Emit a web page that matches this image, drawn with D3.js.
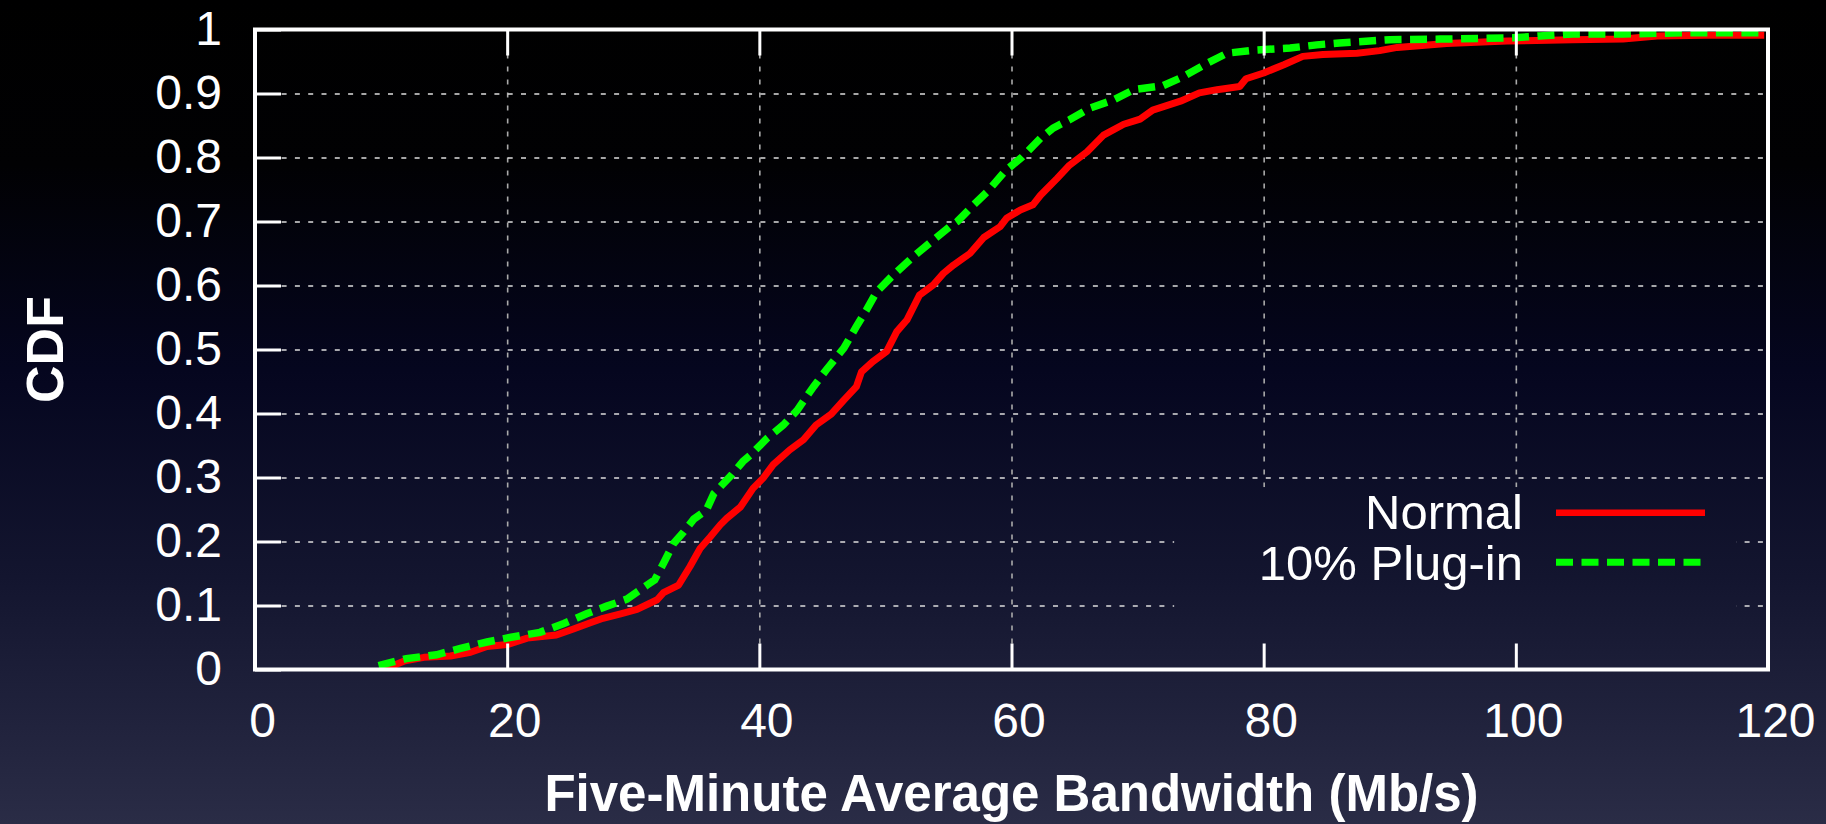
<!DOCTYPE html>
<html>
<head>
<meta charset="utf-8">
<script src="https://cdn.jsdelivr.net/npm/d3@7"></script>
<style>
  html, body { margin: 0; padding: 0; background: #000; }
  svg { display: block; }
  text { font-family: "Liberation Sans", Arial, Helvetica, sans-serif; fill: #fff; }
</style>
</head>
<body>
<svg id="chart"></svg>
<script>
// data
var xTicks = [0, 20, 40, 60, 80, 100, 120];
var yTicks = [0, 0.1, 0.2, 0.3, 0.4, 0.5, 0.6, 0.7, 0.8, 0.9, 1];
var seriesNames = ["Normal", "10% Plug-in"];

var normalX = [10.2, 11.8, 13.4, 15.5, 17.1, 18.4, 20.0, 21.6, 23.9, 25.2, 26.6, 27.6, 29.0, 30.3, 31.9, 32.4,
  33.6, 34.5, 35.3, 36.1, 36.9, 37.4, 38.5, 39.5, 40.3, 41.1, 42.4, 43.5, 44.5, 45.7, 46.7, 47.7, 48.1, 49.0,
  50.1, 50.9, 51.7, 52.7, 53.8, 54.6, 55.4, 56.7, 57.8, 59.1, 59.6, 60.7, 61.7, 62.3, 63.6, 64.6, 66.0, 67.3,
  68.9, 70.2, 71.2, 73.4, 74.9, 76.3, 78.1, 78.6, 80.0, 81.6, 83.1, 84.7, 87.4, 89.2, 90.6, 94.5, 99.3, 104.5,
  108.5, 111.2, 115.1, 119.7];
var normalY = [0, 0.013, 0.019, 0.021, 0.027, 0.036, 0.039, 0.049, 0.054, 0.063, 0.073, 0.080, 0.087, 0.094, 0.109, 0.120,
  0.132, 0.161, 0.189, 0.207, 0.226, 0.236, 0.254, 0.283, 0.299, 0.320, 0.343, 0.359, 0.382, 0.399, 0.421, 0.442, 0.465, 0.481,
  0.497, 0.528, 0.546, 0.585, 0.601, 0.619, 0.632, 0.650, 0.675, 0.692, 0.705, 0.718, 0.726, 0.741, 0.767, 0.788, 0.809, 0.835,
  0.852, 0.860, 0.874, 0.888, 0.901, 0.906, 0.911, 0.923, 0.932, 0.945, 0.958, 0.961, 0.963, 0.967, 0.972, 0.978, 0.982, 0.984,
  0.985, 0.990, 0.991, 0.991];

var plugX = [9.8, 12.0, 14.4, 16.3, 18.4, 20.2, 22.6, 24.5, 26.3, 27.9, 29.5, 31.1, 31.7, 32.4, 33.2, 34.0,
  34.8, 35.8, 36.4, 37.8, 38.7, 39.3, 40.1, 40.6, 41.9, 43.0, 44.3, 45.3, 46.7, 47.7, 48.5, 49.3, 50.6, 52.2,
  53.8, 55.1, 55.7, 57.0, 58.1, 59.5, 60.8, 62.3, 63.3, 64.6, 66.2, 68.1, 69.7, 72.0, 73.6, 75.5, 77.1, 79.4,
  82.1, 84.2, 86.0, 90.0, 94.0, 99.8, 101.9, 104.5, 108.5, 113.8, 119.9];
var plugY = [0.006, 0.017, 0.023, 0.033, 0.043, 0.050, 0.058, 0.072, 0.087, 0.099, 0.110, 0.132, 0.140, 0.166, 0.197, 0.215,
  0.235, 0.249, 0.275, 0.304, 0.325, 0.335, 0.351, 0.361, 0.382, 0.405, 0.442, 0.468, 0.502, 0.536, 0.562, 0.590, 0.616, 0.645,
  0.671, 0.692, 0.700, 0.726, 0.747, 0.779, 0.800, 0.830, 0.846, 0.859, 0.877, 0.890, 0.906, 0.912, 0.926, 0.947, 0.963, 0.968,
  0.971, 0.976, 0.979, 0.984, 0.985, 0.987, 0.990, 0.993, 0.993, 0.995, 0.995];

// margins
var W = 1826, H = 824;
var margin = { top: 29.5, right: 58, bottom: 154.5, left: 255 },
    width = W - margin.left - margin.right,
    height = H - margin.top - margin.bottom;

var root = d3.select('#chart').attr('width', W).attr('height', H);

// background gradient, black at top going to dark navy
var defs = root.append('defs');
var grad = defs.append('linearGradient').attr('id', 'bg')
    .attr('gradientUnits', 'userSpaceOnUse')
    .attr('x1', 0).attr('y1', 0).attr('x2', 0).attr('y2', H);
[[0, '#000000'], [0.2, '#010103'], [0.45, '#05061f'], [0.7, '#13152f'], [1, '#2a2c46']].forEach(function(s){
    grad.append('stop').attr('offset', s[0]).attr('stop-color', s[1]);
});
root.append('rect').attr('width', W).attr('height', H).attr('fill', 'url(#bg)');

defs.append('clipPath').attr('id', 'plotclip')
  .append('rect').attr('x', 0).attr('y', -4).attr('width', width).attr('height', height + 4);

var svg = root.append('g').attr('transform', 'translate(' + margin.left + ',' + margin.top + ')');

// scales
var xScale = d3.scaleLinear().domain([0, 120]).range([0, width]);
var yScale = d3.scaleLinear().domain([0, 1]).range([height, 0]);

// gridlines
var gridX = svg.append('g').attr('class', 'grid')
    .attr('transform', 'translate(0,' + height + ')')
    .call(d3.axisBottom(xScale).tickValues(xTicks.slice(1, -1)).tickSize(-height).tickFormat(''));
var gridY = svg.append('g').attr('class', 'grid')
    .call(d3.axisLeft(yScale).tickValues(yTicks.slice(1, -1)).tickSize(-width).tickFormat(''));
svg.selectAll('.grid .domain').remove();
gridX.selectAll('line').attr('stroke', '#aaa').attr('stroke-width', 1.6).attr('stroke-dasharray', '5,8');
gridY.selectAll('line').attr('stroke', '#ddd').attr('stroke-width', 1.6).attr('stroke-dasharray', '5,8.3');

// legend box hides the grid behind it (same gradient, so it blends in)
var legX = xScale(72.9), legY = yScale(0.285);
root.append('rect')
    .attr('x', legX + margin.left).attr('y', legY + margin.top)
    .attr('width', xScale(117.5) - legX).attr('height', height - legY)
    .attr('fill', 'url(#bg)');

// the curves
var line = d3.line().x(function(d){ return xScale(d[0]); }).y(function(d){ return yScale(d[1]); });
var normal = normalX.map(function(v, i){ return [v, normalY[i]]; });
var plug = plugX.map(function(v, i){ return [v, plugY[i]]; });
var curves = root.append('g').attr('transform', 'translate(' + margin.left + ',' + margin.top + ')')
    .attr('clip-path', 'url(#plotclip)');
curves.append('path').attr('d', line(normal))
    .attr('fill', 'none').attr('stroke', '#ff0000').attr('stroke-width', 7).attr('stroke-linejoin', 'round');
curves.append('path').attr('d', line(plug))
    .attr('fill', 'none').attr('stroke', '#00ff00').attr('stroke-width', 7.5).attr('stroke-dasharray', '17,8.5');

var frame = root.append('g').attr('transform', 'translate(' + margin.left + ',' + margin.top + ')');
// border
frame.append('rect').attr('width', width).attr('height', height)
    .attr('fill', 'none').attr('stroke', '#fff').attr('stroke-width', 4);

// axes, ticks point inward
var xAxis = d3.axisBottom(xScale).tickValues(xTicks).tickSizeInner(-26).tickSizeOuter(0).tickPadding(33);
var yAxis = d3.axisLeft(yScale).tickValues(yTicks).tickSizeInner(-26).tickSizeOuter(0).tickPadding(33)
    .tickFormat(d3.format('~g'));
var gx = frame.append('g').attr('transform', 'translate(0,' + height + ')').call(xAxis);
var gy = frame.append('g').call(yAxis);
var gt = frame.append('g').call(d3.axisTop(xScale).tickValues(xTicks).tickSizeInner(-26).tickSizeOuter(0).tickFormat(''));
[gx, gy, gt].forEach(function(g){
    g.select('.domain').remove();
    g.selectAll('line').attr('stroke', '#fff').attr('stroke-width', 3);
    g.selectAll('text').attr('fill', '#fff').style('font-size', '48px')
        .style('font-family', '"Liberation Sans", Arial, Helvetica, sans-serif');
});
gx.selectAll('text').attr('dx', 7);

// axis titles
frame.append('text')
    .attr('x', width / 2).attr('y', 781)
    .attr('text-anchor', 'middle')
    .style('font-size', '51px').style('font-weight', 'bold')
    .text('Five-Minute Average Bandwidth (Mb/s)');
frame.append('text')
    .attr('transform', 'translate(' + (63 - margin.left) + ',' + (height / 2) + ') rotate(-90)')
    .attr('text-anchor', 'middle')
    .style('font-size', '52px').style('font-weight', 'bold')
    .text('CDF');

// legend
var legend = root.append('g');
var rows = [
  { name: seriesNames[0], color: '#ff0000', dash: null, y: 512.7, base: 529, w: 6.5 },
  { name: seriesNames[1], color: '#00ff00', dash: '17,8.5', y: 562.3, base: 580, w: 7 }
];
rows.forEach(function(r){
    legend.append('text').attr('x', 1523).attr('y', r.base).attr('text-anchor', 'end')
        .style('font-size', '49px').text(r.name);
    legend.append('line').attr('x1', 1556).attr('x2', 1705).attr('y1', r.y).attr('y2', r.y)
        .attr('stroke', r.color).attr('stroke-width', r.w).attr('stroke-dasharray', r.dash);
});
</script>
</body>
</html>
